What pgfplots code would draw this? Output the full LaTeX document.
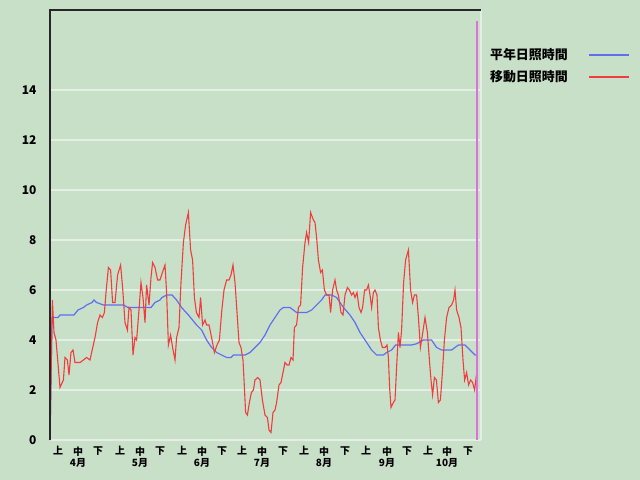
\documentclass[border=0pt]{standalone}
\usepackage{fontspec}
\setmainfont{Noto Sans CJK JP}
\usepackage{pgfplots}
\pgfplotsset{compat=1.18}
\usetikzlibrary{backgrounds}
\definecolor{bgc}{RGB}{200,224,200}
\definecolor{gridc}{RGB}{228,238,228}
\definecolor{normblue}{RGB}{96,110,240}
\definecolor{movred}{RGB}{240,60,60}
\definecolor{todaymag}{RGB}{222,112,222}

% day 0 = 4/1
\pgfplotstableread{
day val
0 0
1 4.9
4 4.9
5 5.0
12 5.0
14 5.2
16.7 5.3
18.3 5.4
21 5.5
22 5.6
23.3 5.5
26.7 5.4
36.7 5.4
39 5.3
50.5 5.3
52.5 5.5
55 5.6
56 5.7
58.3 5.8
61 5.8
63.3 5.6
65.8 5.3
69.2 5.0
73.3 4.6
75.8 4.4
78.3 4.0
80.8 3.7
83.3 3.5
85.8 3.4
88.3 3.3
90.5 3.3
91.7 3.4
97.5 3.4
100 3.5
102.5 3.7
105 3.9
107.5 4.2
110 4.6
112.5 4.9
115 5.2
116.7 5.3
120 5.3
123.3 5.1
128.3 5.1
130.8 5.2
133.3 5.4
135.8 5.6
137.5 5.8
140.8 5.8
143.3 5.7
146.7 5.3
150 5.0
152.5 4.7
155 4.3
157.5 4.0
160.8 3.6
163.3 3.4
166.7 3.4
168.3 3.5
170.8 3.6
172.8 3.8
180.8 3.8
183.3 3.85
186.7 4.0
190.8 4.0
193.3 3.7
195.8 3.6
200.8 3.6
204.2 3.8
207.5 3.8
210 3.6
212.5 3.4
213.5 3.4
}\normal

\pgfplotstableread{
day val
0 0
1.2 5.6
2 4.3
3 4.0
5 2.1
6.7 2.4
7.5 3.3
8.7 3.2
9.5 2.6
10.5 3.5
11.5 3.6
12.5 3.1
15 3.1
16.7 3.2
18.3 3.3
20 3.2
20.8 3.5
22.5 4.1
23.8 4.7
25 5.0
26.2 4.9
27.2 5.1
28 5.9
29.2 6.9
30.3 6.8
31.3 5.5
32.5 5.5
33.8 6.6
35.3 7.0
36.3 6.1
37.5 4.7
38.7 4.4
39.5 5.3
40.5 5.2
41.5 3.4
42.5 4.1
43.3 4.0
44.5 5.2
45.5 6.3
46.5 5.7
47.5 4.7
48.3 6.2
49.5 5.4
50.5 6.5
51.3 7.1
52.5 6.9
53.8 6.4
55 6.4
56.2 6.7
57.5 7.0
58.3 5.9
59.2 3.8
60.3 4.2
61.3 3.7
62.5 3.2
63.3 4.1
64.5 4.5
65.5 6.3
66.7 7.9
67.8 8.6
69.2 9.1
70.3 7.6
71.3 7.2
72.2 5.7
73.2 5.1
74.5 4.9
75.3 5.7
76.3 4.6
77.5 4.8
78.3 4.6
79.5 4.6
80.8 4.1
82.2 3.5
83.5 3.8
84.7 4.0
85.8 5.1
87 6.0
88.3 6.4
89.5 6.4
90.5 6.6
91.5 7.0
92.5 6.3
93.5 5.1
94.5 3.9
95.5 3.7
96.5 3.2
97.2 2.1
97.8 1.1
98.7 1.0
99.7 1.5
100.7 1.9
101.7 2.0
102.5 2.4
103.8 2.5
105 2.4
106.2 1.6
107.5 1.0
108.7 0.9
109.5 0.4
110.5 0.3
111.5 1.1
112.5 1.2
113.3 1.5
114.5 2.2
115.5 2.3
116.5 2.7
117.5 3.1
118.5 3.0
119.5 3.0
120.5 3.3
121.5 3.2
122.2 4.5
123.3 4.6
124.2 5.3
125.3 5.4
126.3 6.9
127.5 7.9
128.3 8.3
129.3 7.9
130.3 9.1
131.7 8.8
132.5 8.7
133.3 8.1
134.2 7.2
135.3 6.7
136.2 6.8
137.2 6.0
138.3 5.8
139.5 5.8
140.3 5.1
141.3 6.0
142.5 6.4
143.3 6.0
144.2 5.8
145.5 5.1
146.5 5.0
147.5 5.8
148.7 6.1
149.7 6.0
150.8 5.8
151.7 5.9
152.5 5.7
153.5 5.9
154.5 5.3
155.5 5.1
156.3 5.3
157.3 6.0
158.3 6.0
159.2 6.2
160 5.8
160.8 5.3
161.7 5.9
162.5 6.0
163.5 5.8
164.2 4.5
165.2 4.0
166.2 3.7
167.5 3.7
168.5 3.8
169.2 3.3
169.8 2.1
170.5 1.3
171.7 1.5
172.5 1.6
173.3 2.9
174.2 4.3
175 3.7
175.8 4.4
176.8 6.3
177.8 7.2
179.2 7.6
180.3 6.0
181.3 5.5
182.2 5.8
183.3 5.8
184.2 4.9
185.2 3.7
186.2 4.2
187.5 4.9
188.7 4.3
189.7 3.2
190.5 2.4
191.3 1.8
192.2 2.5
193.2 2.4
194.2 1.5
195.2 1.6
196.2 2.7
197.2 4.0
198.3 4.9
199.5 5.3
200.8 5.4
201.8 5.6
202.5 6.0
203.3 5.2
204.5 4.9
205.5 4.5
206.5 3.2
207.3 2.4
208.3 2.7
209.3 2.2
210.3 2.4
211.3 2.3
212.3 2.0
213.2 2.6
213.7 2.7
}\moving

\begin{document}
\begin{tikzpicture}[show background rectangle, inner frame sep=0pt,
  background rectangle/.style={fill=bgc, draw=none}]
\path[use as bounding box] (-50bp,-40bp) rectangle (590bp,440bp);
\begin{axis}[
  at={(0,0)}, anchor=south west,
  scale only axis,
  width=431bp, height=430bp,
  xmin=0, xmax=215.5,
  ymin=0, ymax=17.2,
  axis line style={draw=none},
  major tick length=0pt,
  ytick={0,2,...,14},
  ymajorgrids,
  major grid style={gridc, line width=1.5bp},
  xtick={4,14,24,35,45,55,66,76,86,96,106,116.5,127,137,147.5,158,168.5,178.5,189,198.5,209},
  xticklabels={上,{中\\4月},下,上,{中\\5月},下,上,{中\\6月},下,上,{中\\7月},下,上,{中\\8月},下,上,{中\\9月},下,上,{中\\10月},下},
  xticklabel style={align=center, font=\bfseries\fontsize{10}{11.5}\selectfont, yshift=-3bp},
  yticklabel style={font=\bfseries\fontsize{12}{12}\selectfont, xshift=-10bp},
  /pgf/number format/assume math mode=true,
  clip=false,
  legend plot pos=right,
  legend cell align=left,
  legend image code/.code={\draw[#1, line width=2bp] (0bp,0bp) -- (40bp,0bp);},
  legend style={at={(1.016,0.915)}, anchor=north west, draw=none, fill=none,
    font=\bfseries\fontsize{13}{13}\selectfont, inner sep=0pt,
    column sep=18bp, row sep=5bp},
]
\addplot[normblue, line width=1.2bp] table[x=day, y=val] {\normal};
\addlegendentry{平年日照時間}
\addplot[movred, line width=1.1bp] table[x=day, y=val] {\moving};
\addlegendentry{移動日照時間}
\addplot[todaymag, line width=2bp, forget plot] coordinates {(213.7,0) (213.7,16.75)};
\draw[gridc, line width=1.2bp] (rel axis cs:1,1) -- (rel axis cs:1,0);
\draw[black!85, line width=2.6bp] (rel axis cs:0,0) -- (rel axis cs:0,1) -- (rel axis cs:1,1);
\end{axis}
\end{tikzpicture}
\end{document}
